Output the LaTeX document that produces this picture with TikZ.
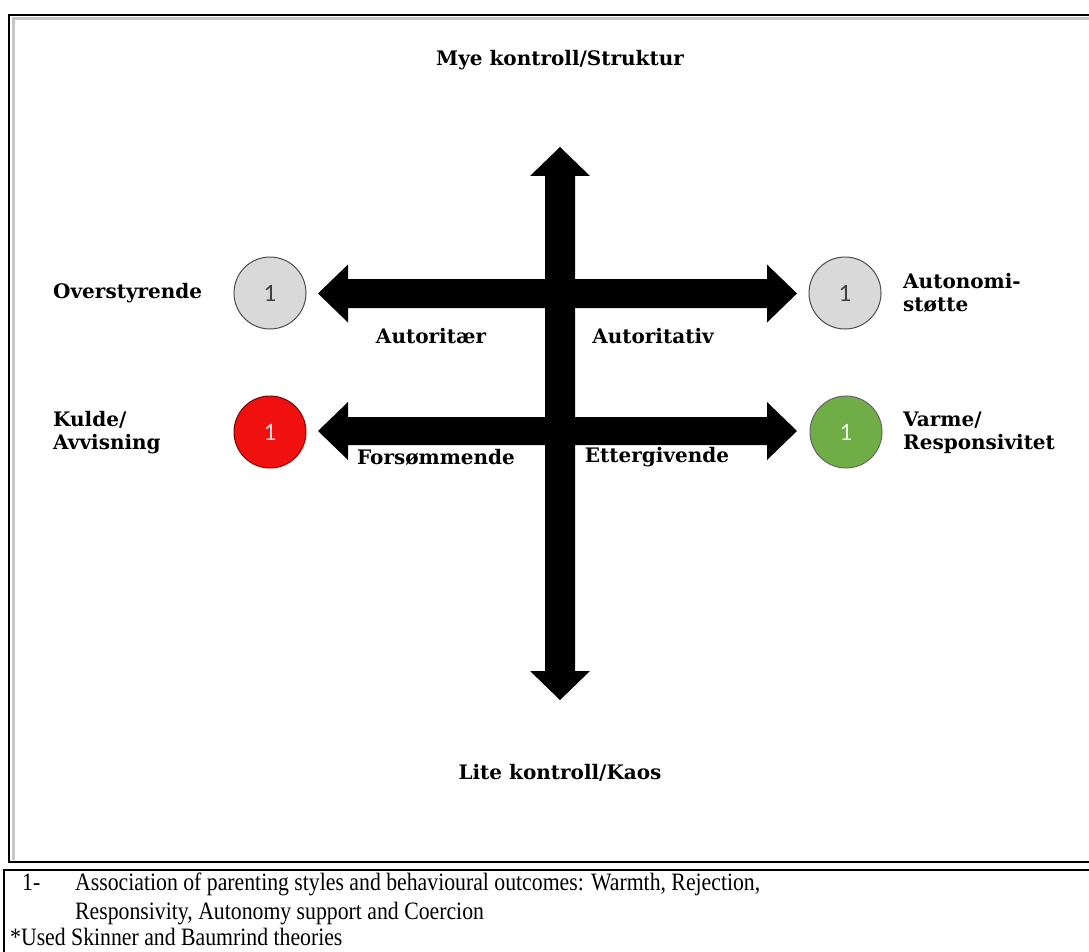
\documentclass[tikz,border=0pt]{standalone}
\usepackage{fontspec}
\setmainfont{DejaVu Serif}
\newfontfamily\labelfont{DejaVu Serif}
\newfontfamily\numfont{Carlito}
\newfontfamily\notefont[FakeStretch=0.87]{Liberation Serif}
\definecolor{circgrey}{HTML}{D9D9D9}
\definecolor{circred}{HTML}{F01010}
\definecolor{circgreen}{HTML}{70AD47}
\begin{document}
\begin{tikzpicture}[x=1pt,y=-1pt,
  axislabel/.style={font=\labelfont\bfseries\fontsize{20}{23}\selectfont, inner sep=0pt},
  marker/.style={circle, minimum size=72pt, inner sep=0pt, draw=#1, line width=1pt,
    font=\numfont\fontsize{25}{25}\selectfont},
  note/.style={font=\notefont\fontsize{25}{25}\selectfont, inner sep=0pt, anchor=base west},
  blockarrow/.style={fill=black}
]
\useasboundingbox (0,0) rectangle (1089,952);
\clip (0,0) rectangle (1089,952);

% outer frame with a faint inner shadow
\draw[gray!45, line width=3pt] (13,860) -- (13,19) -- (1100,19);
\draw[line width=2pt] (9,15) rectangle (1100,862);

% vertical control axis
\fill[blockarrow] (560,147) -- (590,176) -- (575,176) -- (575,671) -- (590,671)
  -- (560,700) -- (530,671) -- (545,671) -- (545,176) -- (530,176) -- cycle;

% upper horizontal axis
\fill[blockarrow] (318,293.5) -- (348,264.5) -- (348,279) -- (767,279) -- (767,264.5)
  -- (797,293.5) -- (767,322.5) -- (767,308) -- (348,308) -- (348,322.5) -- cycle;

% lower horizontal axis
\fill[blockarrow] (318,431) -- (348,402) -- (348,417) -- (767,417) -- (767,402)
  -- (797,431) -- (767,460) -- (767,445) -- (348,445) -- (348,460) -- cycle;

% numbered markers
\node[marker=black!70, fill=circgrey, text=black!75] (mOver) at (270,293) {1};
\node[marker=black!70, fill=circgrey, text=black!75] (mAuto) at (845,293) {1};
\node[marker=red!50!black, fill=circred, text=red!15] (mKulde) at (270,432) {1};
\node[marker=black!60, fill=circgreen, text=green!10] (mVarme) at (846,432) {1};

% axis labels
\node[axislabel] (lTop) at (560,60) {Mye kontroll/Struktur};
\node[axislabel] (lBottom) at (560,773) {Lite kontroll/Kaos};
\node[axislabel, anchor=west] (lOver) at (53,293) {Overstyrende};
\node[axislabel, anchor=west, align=left] (lAutoStotte) at (903,293) {Autonomi-\\støtte};
\node[axislabel] (lAutoritaer) at (431,336) {Autoritær};
\node[axislabel] (lAutoritativ) at (653,336) {Autoritativ};
\node[axislabel, anchor=west, align=left] (lKulde) at (53,433) {Kulde/\\Avvisning};
\node[axislabel] (lForsom) at (436,457) {Forsømmende};
\node[axislabel] (lEtter) at (657,457) {Ettergivende};
\node[axislabel, anchor=west, align=left] (lVarme) at (903,433) {Varme/\\Responsivitet};

% caption box
\draw[line width=2pt] (4,1000) -- (4,870) -- (1100,870);
\node[note] (n1) at (22,890) {1-};
\node[note] (n1a) at (75,890) {Association of parenting styles and behavioural outcomes: Warmth, Rejection,};
\node[note] (n1b) at (75,919) {Responsivity, Autonomy support and Coercion};
\node[note] (n2) at (10,945) {*Used Skinner and Baumrind theories};
\end{tikzpicture}
\end{document}
